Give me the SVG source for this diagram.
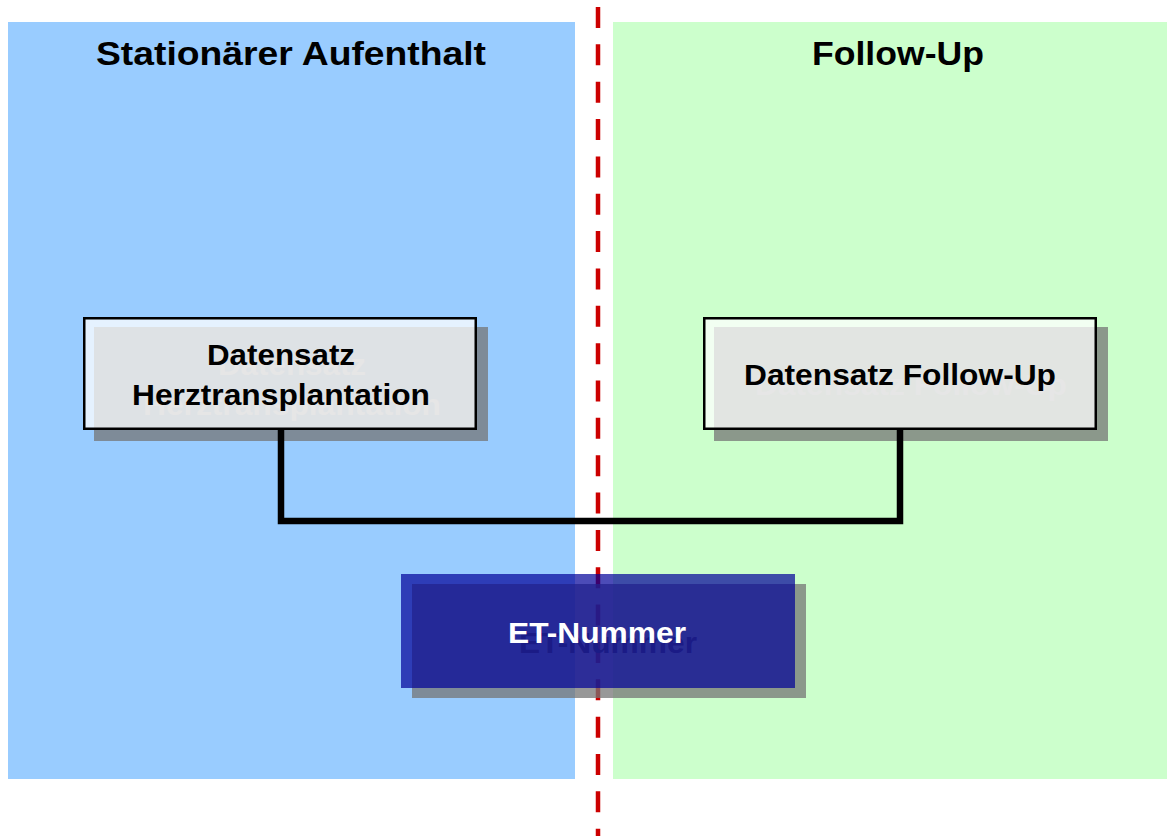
<svg xmlns="http://www.w3.org/2000/svg" width="1167" height="836" viewBox="0 0 1167 836">
  <style>
    .title { font-family: "Liberation Sans", Arial, sans-serif; font-weight: bold; font-size: 33px; fill: #000; text-anchor: middle; }
    .lbl { font-family: "Liberation Sans", Arial, sans-serif; font-weight: bold; font-size: 29px; text-anchor: middle; }
    .shadow { fill: #767676; opacity: 0.75; }
    .ghost { fill: #9c9c9c; }
    .etghost { fill: #5a5a5a; }
    .box { fill: #ffffff; fill-opacity: 0.75; stroke: #000; stroke-width: 2.5; }
    .etbox { fill: #000099; fill-opacity: 0.7; }
    .conn { fill: none; stroke: #000; stroke-width: 6.5; stroke-linejoin: miter; }
  </style>
  <rect width="1167" height="836" fill="#ffffff"/>
  <g id="panels">
    <rect x="8" y="22" width="567" height="757" fill="#99ccff"/>
    <rect x="613" y="22" width="554" height="757" fill="#ccffcc"/>
    <text class="title" x="291" y="65" textLength="390" lengthAdjust="spacingAndGlyphs">Stationärer Aufenthalt</text>
    <text class="title" x="898" y="65" textLength="172" lengthAdjust="spacingAndGlyphs">Follow-Up</text>
  </g>
  <g id="divider">
    <line x1="598" y1="7" x2="598" y2="836" stroke="#cc0000" stroke-width="4.5" stroke-dasharray="21 16.35"/>
  </g>
  <g id="node-herz">
    <g class="shadow">
      <rect x="94" y="327" width="394" height="114"/>
    </g>
    <text class="lbl ghost" x="292" y="375" textLength="148" lengthAdjust="spacingAndGlyphs">Datensatz</text>
    <text class="lbl ghost" x="292" y="415" textLength="298" lengthAdjust="spacingAndGlyphs">Herztransplantation</text>
    <rect class="box" x="84.25" y="318.25" width="391.5" height="110.5"/>
    <text class="lbl" x="281" y="365" textLength="148" lengthAdjust="spacingAndGlyphs">Datensatz</text>
    <text class="lbl" x="281" y="405" textLength="298" lengthAdjust="spacingAndGlyphs">Herztransplantation</text>
  </g>
  <g id="node-follow">
    <g class="shadow">
      <rect x="714" y="327" width="394" height="114"/>
    </g>
    <text class="lbl ghost" x="911" y="395" textLength="312" lengthAdjust="spacingAndGlyphs">Datensatz Follow-Up</text>
    <rect class="box" x="704.25" y="318.25" width="391.5" height="110.5"/>
    <text class="lbl" x="900" y="385" textLength="312" lengthAdjust="spacingAndGlyphs">Datensatz Follow-Up</text>
  </g>
  <g id="connectors">
    <polyline class="conn" points="281,430 281,521 900,521 900,430"/>
  </g>
  <g id="node-et">
    <g class="shadow">
      <rect x="412" y="584" width="394" height="114"/>
    </g>
    <text class="lbl etghost" x="608" y="653" textLength="178" lengthAdjust="spacingAndGlyphs">ET-Nummer</text>
    <rect class="etbox" x="401" y="574" width="394" height="114"/>
    <text class="lbl" x="597" y="643" fill="#ffffff" textLength="178" lengthAdjust="spacingAndGlyphs">ET-Nummer</text>
  </g>
</svg>
